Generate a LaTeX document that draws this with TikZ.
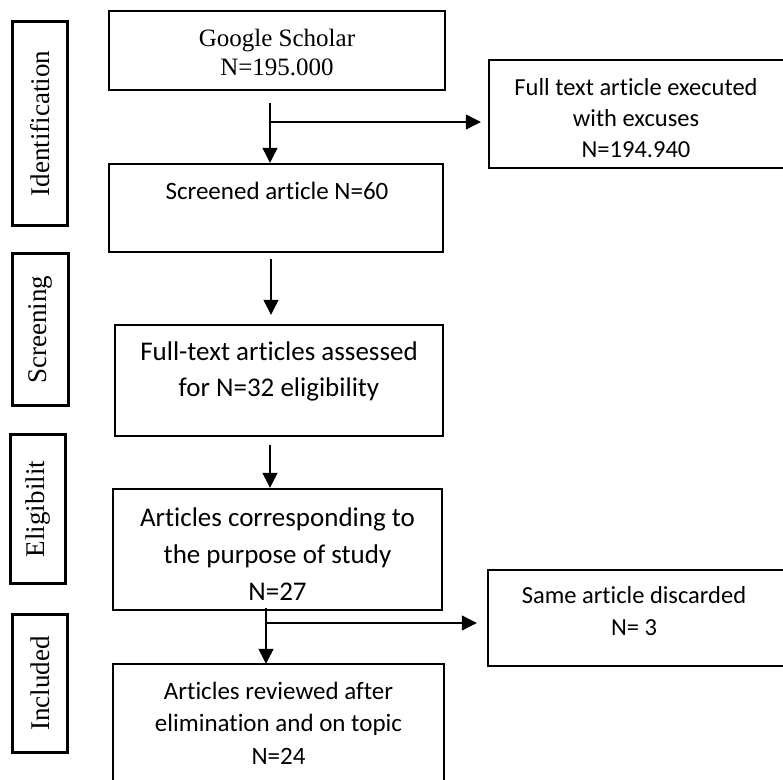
\documentclass[tikz,border=0pt]{standalone}
\usepackage{fontspec}
\setmainfont{Carlito}[Ligatures={TeX,NoCommon}]
\newfontfamily\tnr{Liberation Serif}
\usetikzlibrary{arrows.meta}
\begin{document}
\begin{tikzpicture}[x=1pt,y=-1pt,
  box/.style={draw=black, line width=2.4pt, inner sep=0pt},
  openbox/.style={draw=none, inner sep=0pt},
  edge/.style={draw=black, line width=2.4pt},
  lab/.style={draw=black, line width=2.4pt, inner sep=0pt, rotate=90,
    font=\tnr\fontsize{27}{30}\selectfont},
  txt/.style={inner sep=0pt, align=center},
  arr/.style={line width=1.2pt, -{Triangle[width=15pt,length=15pt]}}]
\useasboundingbox (0,0) rectangle (783,779);
% stage labels
\node[lab, minimum width=204pt, minimum height=55pt] (L1) at (40,123.5) {Identification};
\node[lab, minimum width=152pt, minimum height=56pt] (L2) at (40.5,329.5) {Screening};
\node[lab, minimum width=149pt, minimum height=55pt] (L3) at (38,509) {Eligibilit};
\node[lab, minimum width=138pt, minimum height=55pt] (L4) at (40,683.5) {Included};
% main boxes
\node[box, minimum width=336pt, minimum height=79pt] (gs) at (277,50.5) {};
\node[box, minimum width=334pt, minimum height=88pt] (scr) at (276,208) {};
\node[box, minimum width=328pt, minimum height=111pt] (ft) at (279,380.5) {};
\node[box, minimum width=329pt, minimum height=121pt] (ac) at (277.5,549.5) {};
% boxes running off the picture (open side not drawn)
\node[openbox, minimum width=331pt, minimum height=122pt] (ar) at (278.5,725) {};
\node[openbox, minimum width=295pt, minimum height=108pt] (fte) at (636.5,114) {};
\node[openbox, minimum width=296pt, minimum height=96pt] (sad) at (636,618) {};
\draw[edge] (ar.south west) -- (ar.north west) -- (ar.north east) -- (ar.south east);
\draw[edge] (fte.north east) -- (fte.north west) -- (fte.south west) -- (fte.south east);
\draw[edge] (sad.north east) -- (sad.north west) -- (sad.south west) -- (sad.south east);
% texts
\node[txt, font=\tnr\fontsize{25}{29}\selectfont] (t1) at (277,52.5) {Google Scholar\\N=195.000};
\node[txt, font=\fontsize{25}{31}\selectfont] (t2) at (277,191) {Screened article N=60};
\node[txt, font=\fontsize{27}{36}\selectfont] (t3) at (279,371) {Full-text articles assessed\\for N=32 eligibility};
\node[txt, font=\fontsize{27}{37}\selectfont] (t4) at (277.5,554) {Articles corresponding to\\the purpose of study\\N=27};
\node[txt, font=\fontsize{25}{32.5}\selectfont] (t5) at (278.5,723) {Articles reviewed after\\elimination and on topic\\N=24};
\node[txt, font=\fontsize{24.5}{31}\selectfont] (t6) at (636,118) {Full text article executed\\with excuses\\N=194.940};
\node[txt, font=\fontsize{24.5}{32}\selectfont] (t7) at (634,611) {Same article discarded\\N= 3};
% connectors
\coordinate (a1) at (270,103);
\coordinate (b1) at (270,122);
\coordinate (a2) at (271,259);
\coordinate (a3) at (270,445);
\coordinate (a4) at (266,608);
\coordinate (b4) at (266,623);
\draw[arr] (a1) -- (a1 |- scr.north);
\draw[arr, shorten >=8pt] (b1) -- (b1 -| fte.west);
\draw[arr, shorten >=9pt] (a2) -- (a2 |- ft.north);
\draw[arr] (a3) -- (a3 |- ac.north);
\draw[arr] (a4) -- (a4 |- ar.north);
\draw[arr, shorten >=11pt] (b4) -- (b4 -| sad.west);
\end{tikzpicture}
\end{document}
